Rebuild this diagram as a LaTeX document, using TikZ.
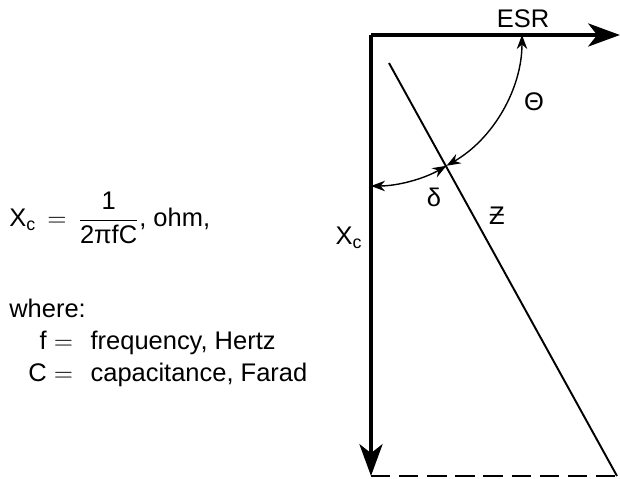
\documentclass[tikz,border=0pt]{standalone}
\usepackage{amsmath}
\usepackage{fontspec}
\setmainfont{Liberation Sans}
\usetikzlibrary{arrows.meta,calc}

\tikzset{
  axis/.style={line width=2.8pt, -{Stealth[length=18pt,width=13pt,inset=5pt]}},
  angarrow/.style={line width=0.8pt, {Stealth[length=8pt,width=6pt]}-{Stealth[length=8pt,width=6pt]}},
  lbl/.style={font=\fontsize{14.5}{18.1}\selectfont, inner sep=0pt}
}

\begin{document}
\begin{tikzpicture}[x=0.02cm, y=0.02cm]
  \useasboundingbox (0,0) rectangle (620,-479);

  % --- Phasor axes ---
  \coordinate (O) at (371,-35);
  \coordinate (esrend) at (620,-35);
  \coordinate (xcend) at (371,-476);
  \coordinate (ztop) at (389,-63);
  \coordinate (zend) at (617,-476);

  \draw[axis] (O) -- (esrend);
  \draw[axis] (O) -- (xcend);

  % Impedance line and closing dashed line
  \draw[line width=1.1pt] (ztop) -- (zend);
  \draw[line width=1.1pt, dash pattern=on 11pt off 5pt] (xcend) -- (zend);

  % Angle arcs
  \coordinate (thstart) at ($(O)+(0:151)$);
  \coordinate (cross) at ($(O)+(-60:151)$);
  \draw[angarrow] (thstart) arc[start angle=0, end angle=-60, radius=151];
  \draw[angarrow] (cross) arc[start angle=-60, end angle=-90, radius=151];

  % Labels
  \node[lbl] (esr) at (523,-19) {ESR};
  \node[lbl] (theta) at (534,-102) {Θ};
  \node[lbl] (delta) at (434,-197) {δ};
  \node[lbl] (zlbl) at (497,-216) {Ƶ};
  \node[lbl] (xc) at (349,-238) {X\textsubscript{c}};

  % --- Formula and definitions ---
  \node[lbl, anchor=west] (formula) at (9,-218)
    {$\text{X}_{\text{c}}\,=\,\dfrac{\text{1}}{\text{2πfC}}$,\ ohm,};
  \node[lbl, anchor=base west] (where) at (9,-318) {where:};
  \node[lbl, anchor=base west] (defs) at (28,-350)
    {\begin{tabular}[t]{@{}r@{\hspace{4pt}}c@{\hspace{10pt}}l@{}}
      f & $=$ & frequency, Hertz\\
      C & $=$ & capacitance, Farad
    \end{tabular}};
\end{tikzpicture}
\end{document}
